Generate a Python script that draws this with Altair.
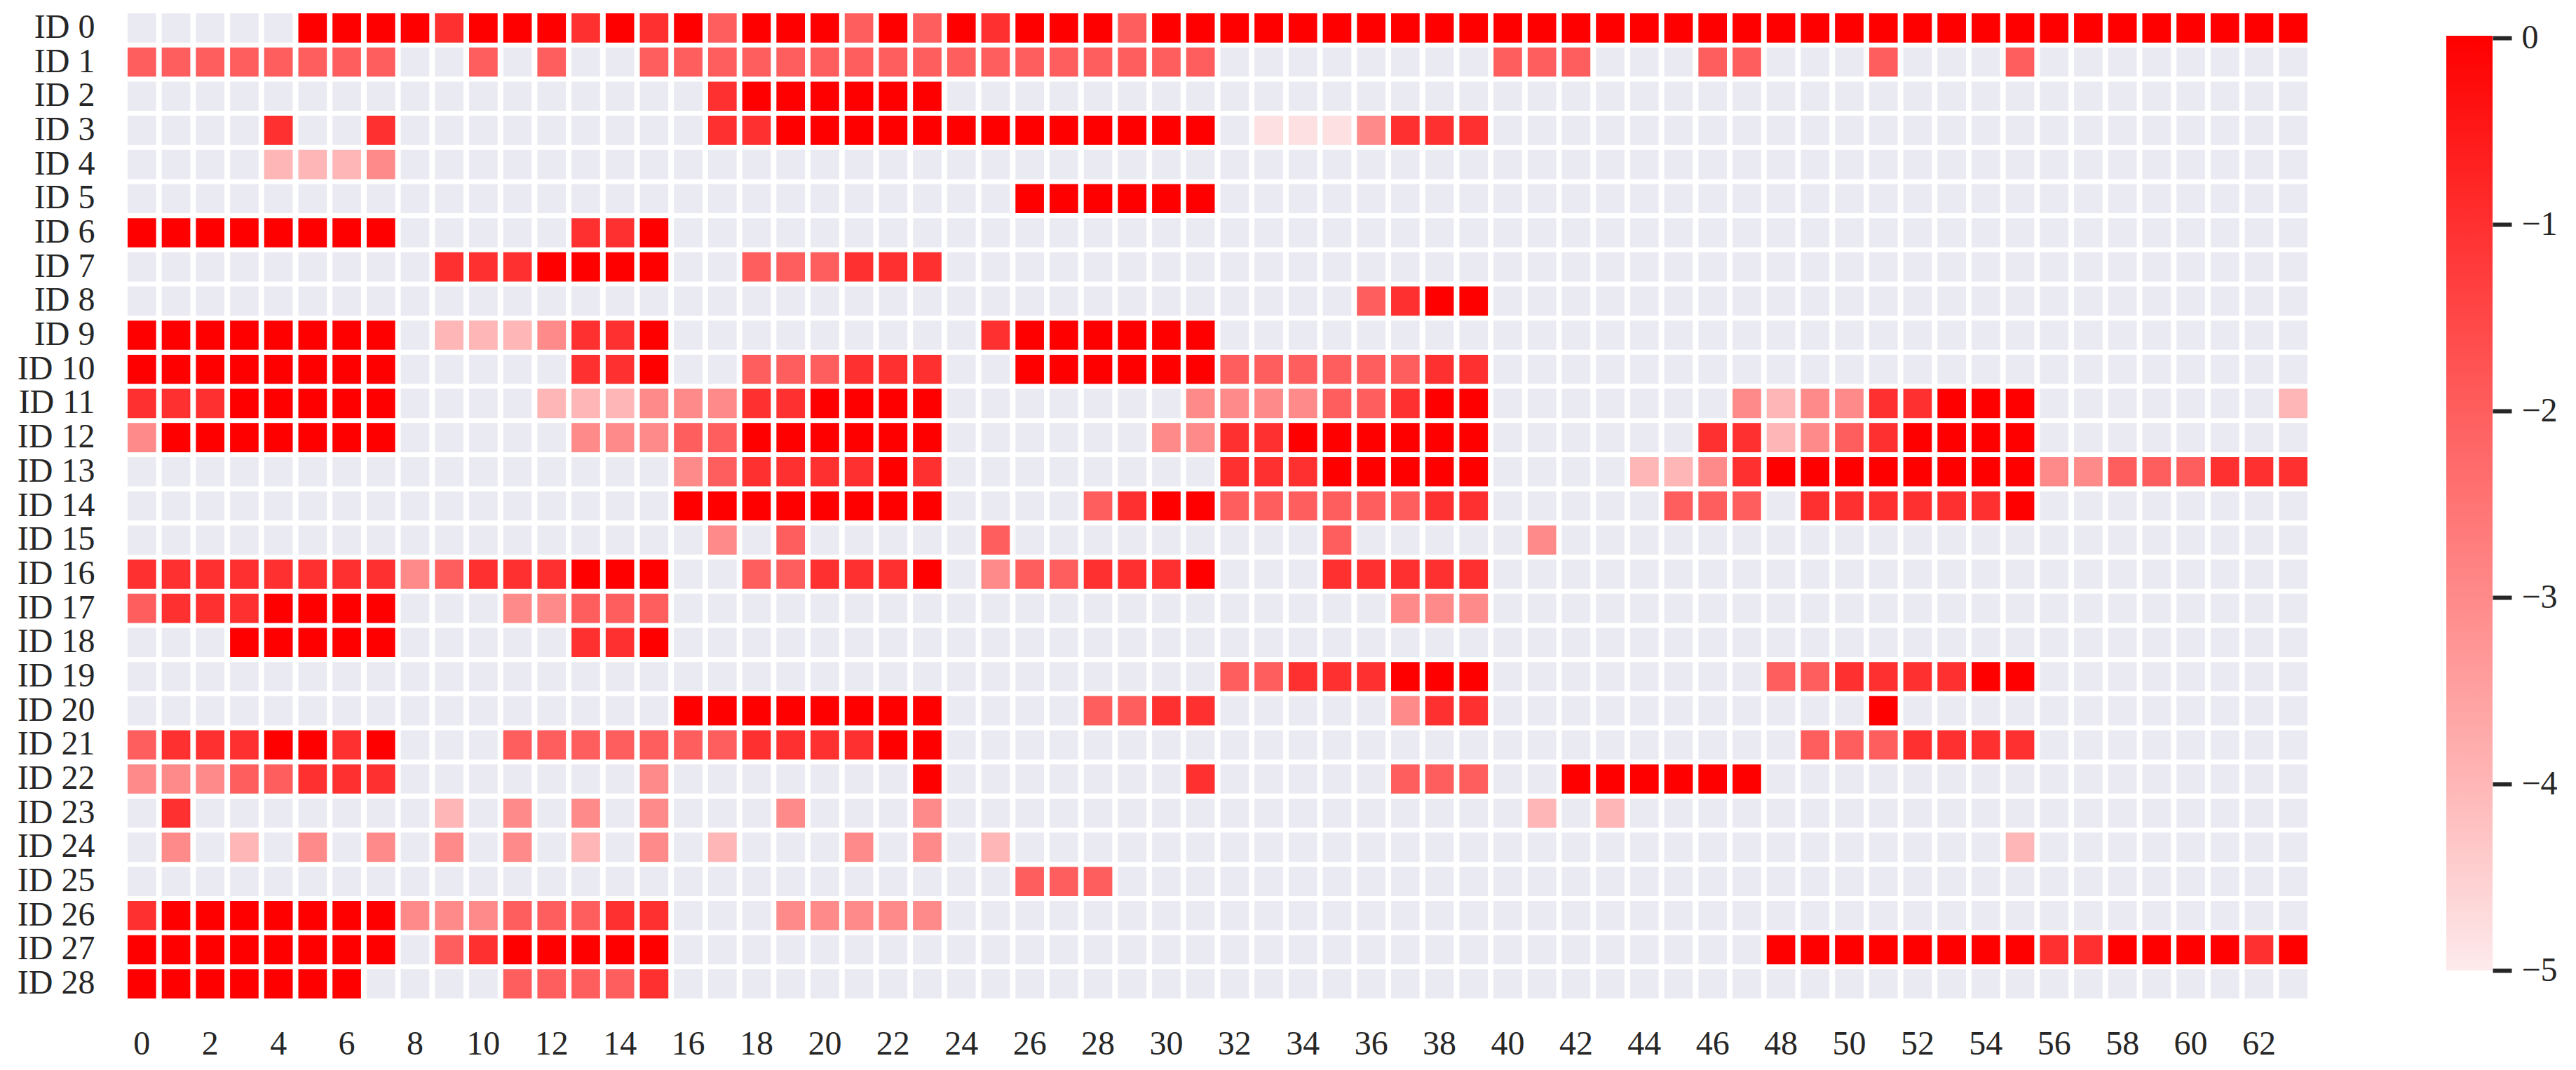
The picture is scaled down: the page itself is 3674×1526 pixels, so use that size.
import altair as alt
import pandas as pd

N = None
F = -4.8
ROWS = [
 [N,N,N,N,N,0,0,0, 0,-1,0,0,0,-1,0,-1, 0,-2,0,0,0,-2,0,-2, 0,-1,0,0,0,-2,0,0] + [0]*32,
 [-2]*8 + [N,N,-2,N,-2,N,N,-2] + [-2]*16 + [N]*8 + [-2,-2,-2,N,N,N,-2,-2, N,N,N,-2,N,N,N,-2] + [N]*8,
 [N]*16 + [N,-1,0,0,0,0,0,0] + [N]*40,
 [N,N,N,N,-1,N,N,-1] + [N]*8 + [N,-1,-1,0,0,0,0,0] + [0]*8 + [N,F,F,F,-3,-1,-1,-1] + [N]*24,
 [N,N,N,N,-4,-4,-4,-3] + [N]*56,
 [N]*26 + [0]*6 + [N]*32,
 [0]*8 + [N,N,N,N,N,-1,-1,0] + [N]*48,
 [N]*8 + [N,-1,-1,-1,0,0,0,0, N,N,-2,-2,-2,-1,-1,-1] + [N]*40,
 [N]*36 + [-2,-1,0,0] + [N]*24,
 [0]*8 + [N,-4,-4,-4,-3,-1,-1,0] + [N]*8 + [N,-1,0,0,0,0,0,0] + [N]*32,
 [0]*8 + [N,N,N,N,N,-1,-1,0, N,N,-2,-2,-2,-1,-1,-1, N,N,0,0,0,0,0,0, -2,-2,-2,-2,-2,-2,-1,-1] + [N]*24,
 [-1,-1,-1,0,0,0,0,0, N,N,N,N,-4,-4,-4,-3, -3,-3,-1,-1,0,0,0,0] + [N]*7 + [-3, -3,-3,-3,-2,-2,-1,0,0] + [N]*7 + [-3, -4,-3,-3,-1,-1,0,0,0] + [N]*7 + [-4],
 [-3,0,0,0,0,0,0,0, N,N,N,N,N,-3,-3,-3, -2,-2,0,0,0,0,0,0] + [N]*6 + [-3,-3, -1,-1,0,0,0,0,0,0] + [N]*6 + [-1,-1, -4,-3,-2,-1,0,0,0,0] + [N]*8,
 [N]*16 + [-3,-2,-1,-1,-1,-1,0,-1] + [N]*8 + [-1,-1,-1,0,0,0,0,0, N,N,N,N,-4,-4,-3,-1] + [0]*8 + [-3,-3,-2,-2,-2,-1,-1,-1],
 [N]*16 + [0]*8 + [N,N,N,N,-2,-1,0,0, -2,-2,-2,-2,-2,-2,-1,-1, N,N,N,N,N,-2,-2,-2, N,-1,-1,-1,-1,-1,-1,0] + [N]*8,
 [N]*17 + [-3,N,-2] + [N]*5 + [-2] + [N]*9 + [-2] + [N]*5 + [-3] + [N]*22,
 [-1]*8 + [-3,-2,-1,-1,-1,0,0,0, N,N,-2,-2,-1,-1,-1,0, N,-3,-2,-2,-1,-1,-1,0, N,N,N,-1,-1,-1,-1,-1] + [N]*24,
 [-2,-1,-1,-1,0,0,0,0, N,N,N,-3,-3,-2,-2,-2] + [N]*21 + [-3,-3,-3] + [N]*24,
 [N,N,N,0,0,0,0,0, N,N,N,N,N,-1,-1,0] + [N]*48,
 [N]*32 + [-2,-2,-1,-1,-1,0,0,0] + [N]*8 + [-2,-2,-1,-1,-1,-1,0,0] + [N]*8,
 [N]*16 + [0]*8 + [N,N,N,N,-2,-2,-1,-1, N,N,N,N,N,-3,-1,-1] + [N]*8 + [N,N,N,0,N,N,N,N] + [N]*8,
 [-2,-1,-1,-1,0,0,-1,0, N,N,N,-2,-2,-2,-2,-2, -2,-2,-1,-1,-1,-1,0,0] + [N]*24 + [N,-2,-2,-2,-1,-1,-1,-1] + [N]*8,
 [-3,-3,-3,-2,-2,-1,-1,-1] + [N]*7 + [-3] + [N]*7 + [0] + [N]*7 + [-1] + [N]*5 + [-2,-2,-2, N,N,0,0,0,0,0,0] + [N]*16,
 [N,-1] + [N]*7 + [-4,N,-3,N,-3,N,-3] + [N]*3 + [-3] + [N]*3 + [-3] + [N]*17 + [-4,N,-4] + [N]*20,
 [N,-3,N,-4,N,-3,N,-3, N,-3,N,-3,N,-4,N,-3, N,-4,N,N,N,-3,N,-3, N,-4,N,N,N,N,N,N] + [N]*23 + [-4] + [N]*8,
 [N]*26 + [-2,-2,-2] + [N]*35,
 [-1,0,0,0,0,0,0,0, -3,-3,-3,-2,-2,-2,-1,-1, N,N,N,-3,-3,-3,-3,-3] + [N]*40,
 [0]*8 + [N,-2,-1,0,0,0,0,0] + [N]*32 + [0]*8 + [-1,-1,0,0,0,0,-1,0],
 [0,0,0,0,0,0,0,N, N,N,N,-2,-2,-2,-2,-1] + [N]*48,
]
for i, r in enumerate(ROWS):
    assert len(r) == 64, (i, len(r))

Y_LABELS = [f"ID {i}" for i in range(29)]
X_TICKS = list(range(0, 64, 2))
STOP_VALUES = [-5, -4, -3, -2, -1, 0]
STOP_COLORS = ["#fdeaec", "#ffb6b6", "#ff8a8a", "#ff5e5e", "#ff3030", "#ff0000"]
FONT = "Liberation Serif"
FS = 48
INK = "#262626"

records = [{"col": c, "row": Y_LABELS[r], "v": ROWS[r][c]} for r in range(29) for c in range(64)]
df = pd.DataFrame(records)

x = alt.X("col:O", title=None, sort=list(range(64)),
          scale=alt.Scale(paddingInner=0.165, paddingOuter=0),
          axis=alt.Axis(values=X_TICKS, labelAngle=0, labelFont=FONT, labelFontSize=FS, labelColor=INK,
                        domain=False, ticks=False, grid=False, labelPadding=41, labelBaseline="top"))
y = alt.Y("row:O", title=None, sort=Y_LABELS,
          scale=alt.Scale(paddingInner=0.145, paddingOuter=0),
          axis=alt.Axis(labelFont=FONT, labelFontSize=FS, labelColor=INK, domain=False, ticks=False,
                        grid=False, labelPadding=47, labelAngle=0))

bg = alt.Chart(df).mark_rect(color="#eaeaf2").encode(x=x, y=y)
fg = alt.Chart(df).transform_filter("isValid(datum.v)").mark_rect().encode(
    x=x, y=y,
    color=alt.Color("v:Q", legend=None, scale=alt.Scale(domain=STOP_VALUES, range=STOP_COLORS, interpolate="rgb")),
)
heat = alt.layer(bg, fg).properties(width=3109, height=1405)

bar_df = pd.DataFrame({"lo": [-5], "hi": [0.013]})
stops = [alt.GradientStop(offset=(v + 5) / 5.013, color=c) for v, c in zip(STOP_VALUES, STOP_COLORS)]
bar = alt.Chart(bar_df).mark_rect(
    fill=alt.Gradient(gradient="linear", stops=stops, x1=0, x2=0, y1=1, y2=0)
).encode(
    x=alt.value(0), x2=alt.value(66),
    y=alt.Y("lo:Q", title=None,
            scale=alt.Scale(domain=[-5, 0.013], range=[1365, 32], nice=False, zero=False),
            axis=alt.Axis(orient="right", values=[-5, -4, -3, -2, -1, 0], format="d", labelFont=FONT, labelFontSize=FS,
                          labelColor=INK, domain=False, grid=False, tickColor=INK, tickSize=27, tickWidth=6,
                          labelPadding=14)),
    y2="hi:Q",
).properties(width=66, height=1405)

chart = alt.hconcat(heat, bar, spacing=198).configure_view(stroke=None).properties(
    padding={"left": 16, "top": 7, "right": 5, "bottom": 5},
    background="white",
)
chart.save("out.html", embed_options={"renderer": "svg", "actions": False})
